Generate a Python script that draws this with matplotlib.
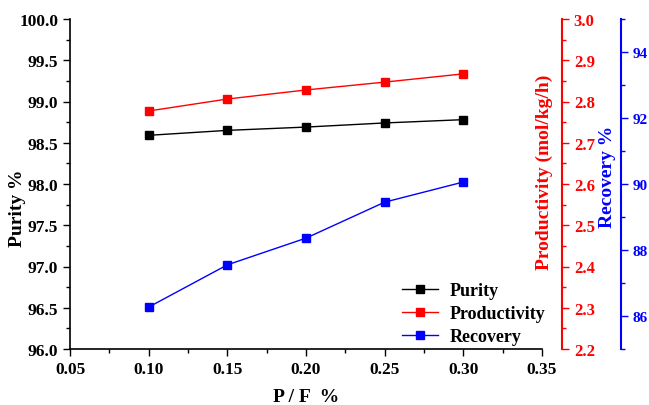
import numpy as np
import matplotlib
matplotlib.use('Agg')
import matplotlib.pyplot as plt
from matplotlib.ticker import MultipleLocator

plt.rcParams['font.family'] = 'Liberation Serif'
plt.rcParams['font.weight'] = 'bold'

pf = [0.10, 0.15, 0.20, 0.25, 0.30]
purity = [98.59, 98.65, 98.69, 98.74, 98.78]
productivity = [2.777, 2.806, 2.828, 2.847, 2.867]
recovery = [86.27, 87.55, 88.36, 89.45, 90.06]

W, H = 649, 406
PT = 72 / 100  # points per pixel at dpi 100

fig = plt.figure(figsize=(W / 100, H / 100), dpi=100)
ax = fig.add_axes([70 / W, 1 - 350 / H, 472 / W, 330 / H])
ax2 = ax.twinx()
ax3 = ax.twinx()

# extra y axes to the right of the plot
ax2.spines['right'].set_position(('outward', 20 * PT))
ax3.spines['right'].set_position(('outward', 79 * PT))
for a in (ax, ax2, ax3):
    a.spines['top'].set_visible(False)
ax.spines['right'].set_visible(False)
for a in (ax2, ax3):
    a.spines['left'].set_visible(False)
    a.spines['bottom'].set_visible(False)

l1, = ax.plot(pf, purity, '-s', color='black', lw=1, ms=5.5, label='Purity')
l2, = ax2.plot(pf, productivity, '-s', color='red', lw=1, ms=5.5, label='Productivity')
l3, = ax3.plot(pf, recovery, '-s', color='blue', lw=1, ms=5.5, label='Recovery')

ax.set_xlim(0.05, 0.35)
ax.set_ylim(96.0, 100.0)
ax2.set_ylim(2.2, 3.0)
ax3.set_ylim(85, 95)

xt = np.arange(0.05, 0.351, 0.05)
ax.set_xticks(xt)
ax.set_xticklabels(['%.2f' % v for v in xt])
ax.xaxis.set_minor_locator(MultipleLocator(0.025))
yt = np.arange(96.0, 100.01, 0.5)
ax.set_yticks(yt)
ax.set_yticklabels(['%.1f' % v for v in yt])
ax.yaxis.set_minor_locator(MultipleLocator(0.25))
pt = np.arange(2.2, 3.001, 0.1)
ax2.set_yticks(pt)
ax2.set_yticklabels(['%.1f' % v for v in pt])
ax2.yaxis.set_minor_locator(MultipleLocator(0.05))
ax3.yaxis.set_major_locator(MultipleLocator(2))
ax3.yaxis.set_minor_locator(MultipleLocator(1))

ax.tick_params(which='major', length=5, width=1, labelsize=12.5, direction='out')
ax.tick_params(which='minor', length=3, width=1, direction='out')
for a, c, fs in ((ax2, 'red', 12), (ax3, 'blue', 11)):
    a.spines['right'].set_color(c)
    a.spines['right'].set_linewidth(1.5)
    a.tick_params(axis='y', which='major', length=5, width=1, labelsize=fs,
                  colors=c, direction='out')
    a.tick_params(axis='y', which='minor', length=3, width=1, colors=c,
                  direction='out')
ax.spines['left'].set_linewidth(1.2)
ax.spines['bottom'].set_linewidth(1.2)

ax.set_xlabel('P / F  %', fontsize=14, fontweight='bold', labelpad=8)
fig.text(18 / W, 1 - 208 / H, 'Purity %', rotation=90, ha='center', va='center',
         fontsize=14, fontweight='bold')
fig.text(544 / W, 1 - 172 / H, 'Productivity (mol/kg/h)', rotation=90,
         ha='center', va='center', fontsize=14, fontweight='bold', color='red')
fig.text(608 / W, 1 - 177 / H, 'Recovery %', rotation=90, ha='center',
         va='center', fontsize=14, fontweight='bold', color='blue')

ax.legend(handles=[l1, l2, l3], loc='upper left', frameon=False,
          prop={'size': 13, 'weight': 'bold'}, handlelength=2.0,
          handletextpad=0.6, labelspacing=0.33,
          bbox_to_anchor=(386 / W, 1 - 267 / H), bbox_transform=fig.transFigure)

fig.savefig('out.png', dpi=100)
